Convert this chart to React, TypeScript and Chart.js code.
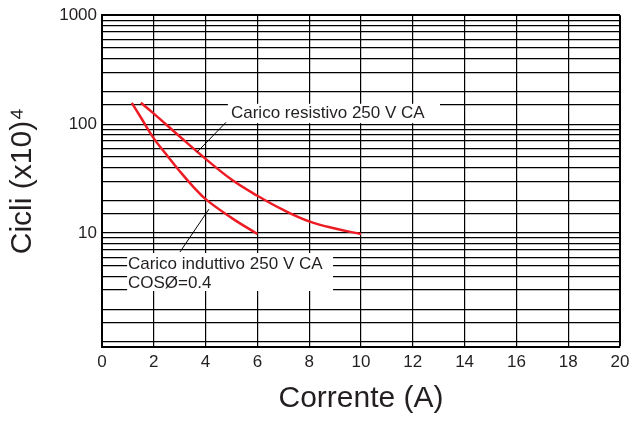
import React, { useEffect, useRef } from 'react';
import { Chart, registerables } from 'chart.js';

Chart.register(...registerables);

// ---- data ----
const resistiveX = [1.5, 2, 3, 4, 5, 6, 7, 8, 9, 10];
const resistiveY = [157, 125, 77, 48, 31, 22, 16.3, 12.8, 11, 9.8];
const inductiveX = [1.15, 1.5, 2, 2.5, 3, 3.5, 4, 5, 6];
const inductiveY = [157, 115, 74, 52, 37, 27, 20.5, 13.8, 9.8];
const yTickLabels = [10, 100, 1000];
const xAxisTitle = 'Corrente (A)';
const yAxisTitle = 'Cicli (x10)\u2074';
const resistiveLabel = ['Carico resistivo 250 V CA'];
const inductiveLabel = ['Carico induttivo 250 V CA', 'COS\u00D8=0.4'];

// annotation anchors in data units
const resistiveNote = { box: [4.86, 13.05, 157, 100], text: [4.98, 126], leader: [4.79, 104, 3.67, 55.4] };
const inductiveNote = { box: [0.97, 8.92, 6.7, 2.88], text: [1.0, 5.2], lineGap: 19, leader: [3.01, 6.7, 4.13, 16.6] };

const FONT = '"Liberation Sans", Arial, sans-serif';
const TEXT = '#231f20';
const RED = '#ed1c24';

const annotPlugin = {
  id: 'annot',
  beforeDatasetsDraw(chart: any) {
    const { ctx, scales } = chart;
    const x = scales.x, y = scales.y;
    ctx.save();
    ctx.fillStyle = '#ffffff';
    [resistiveNote, inductiveNote].forEach((n) => {
      const x0 = x.getPixelForValue(n.box[0]);
      const x1 = x.getPixelForValue(n.box[1]);
      const y0 = y.getPixelForValue(n.box[2]);
      const y1 = y.getPixelForValue(n.box[3]);
      ctx.fillRect(x0, y0 + 1, x1 - x0, y1 - y0 - 2);
    });
    ctx.restore();
  },
  afterDatasetsDraw(chart: any) {
    const { ctx, scales } = chart;
    const x = scales.x, y = scales.y;
    ctx.save();
    ctx.strokeStyle = '#000';
    ctx.lineWidth = 1;
    [resistiveNote, inductiveNote].forEach((n) => {
      ctx.beginPath();
      ctx.moveTo(x.getPixelForValue(n.leader[0]), y.getPixelForValue(n.leader[1]));
      ctx.lineTo(x.getPixelForValue(n.leader[2]), y.getPixelForValue(n.leader[3]));
      ctx.stroke();
    });
    ctx.fillStyle = TEXT;
    ctx.font = `17px ${FONT}`;
    ctx.textBaseline = 'middle';
    ctx.textAlign = 'left';
    ctx.fillText(resistiveLabel[0], x.getPixelForValue(resistiveNote.text[0]), y.getPixelForValue(resistiveNote.text[1]));
    const ix = x.getPixelForValue(inductiveNote.text[0]);
    const iy = y.getPixelForValue(inductiveNote.text[1]);
    inductiveLabel.forEach((t, i) => ctx.fillText(t, ix, iy + i * inductiveNote.lineGap));
    ctx.restore();
  },
};

export default function App() {
  const ref = useRef<HTMLCanvasElement>(null);
  useEffect(() => {
    if (!ref.current) return;
    const chart = new Chart(ref.current, {
      type: 'line',
      data: {
        datasets: [
          {
            label: resistiveLabel[0],
            data: resistiveX.map((v, i) => ({ x: v, y: resistiveY[i] })),
            borderColor: RED,
            borderWidth: 2.5,
            pointRadius: 0,
            tension: 0.4,
            fill: false,
          },
          {
            label: inductiveLabel[0],
            data: inductiveX.map((v, i) => ({ x: v, y: inductiveY[i] })),
            borderColor: RED,
            borderWidth: 2.5,
            pointRadius: 0,
            tension: 0.4,
            fill: false,
          },
        ],
      },
      options: {
        animation: false,
        responsive: true,
        maintainAspectRatio: false,
        layout: { padding: { top: 15, right: 16, left: 0, bottom: 0 } },
        plugins: { legend: { display: false }, tooltip: { enabled: false } },
        scales: {
          x: {
            type: 'linear',
            min: 0,
            max: 20,
            ticks: { stepSize: 2, color: TEXT, font: { family: FONT, size: 17 }, padding: 5, maxRotation: 0 },
            grid: {
              color: '#000',
              lineWidth: (c: any) => (c.index === 10 ? 2 : 1.2),
              drawTicks: false,
            },
            border: { color: '#000', width: 2 },
            title: { display: true, text: xAxisTitle, color: TEXT, font: { family: FONT, size: 30 }, padding: { top: 0, bottom: 4 } },
            afterFit: (s: any) => { s.height = 74; },
          },
          y: {
            type: 'logarithmic',
            min: 0.9,
            max: 1000,
            ticks: {
              autoSkip: false,
              color: TEXT,
              font: { family: FONT, size: 17 },
              padding: 5,
              callback: (v: any) => (yTickLabels.includes(Number(v)) ? String(v) : ''),
            },
            grid: {
              color: '#000',
              lineWidth: (c: any) => (c.tick && c.tick.value === 1000 ? 2 : 1.2),
              drawTicks: false,
            },
            border: { color: '#000', width: 2 },
            title: { display: true, text: yAxisTitle, color: TEXT, font: { family: FONT, size: 30 }, padding: { top: 5, bottom: 0 } },
            afterFit: (s: any) => { s.width = 102; },
          },
        },
      },
      plugins: [annotPlugin],
    } as any);
    return () => chart.destroy();
  }, []);
  return (
    <div style={{ position: 'fixed', left: 0, top: 0, width: 636, height: 421, background: '#fff' }}>
      <canvas ref={ref} />
    </div>
  );
}
